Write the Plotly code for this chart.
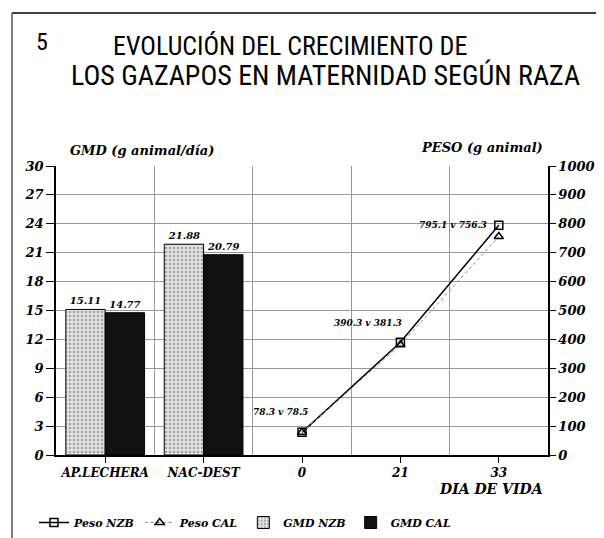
import plotly.graph_objects as go

categories = ["AP.LECHERA", "NAC-DEST", "0", "21", "33"]
bar_cats = ["AP.LECHERA", "NAC-DEST"]
gmd_nzb = [15.11, 21.88]
gmd_cal = [14.77, 20.79]
days = ["0", "21", "33"]
peso_nzb = [78.3, 390.3, 795.1]
peso_cal = [78.5, 381.3, 756.3]
left_ticks = list(range(0, 31, 3))
right_ticks = list(range(0, 1001, 100))

pos = {c: i for i, c in enumerate(categories)}
bar_x = [pos[c] for c in bar_cats]
day_x = [pos[d] for d in days]
boundaries = [i + 0.5 for i in range(len(categories))]

# the page body adds an 8 px margin; work in screen pixels and convert
OFF = 8
W, H = 604 - OFF, 538 - OFF
SL, SR, ST, SB = 56, 548, 166, 455          # plot area in screen pixels
L, R, T, B = SL - OFF, SR - OFF, ST - OFF, SB - OFF
def px(sx):
    return (sx - SL) / (SR - SL)
def py(sy):
    return (SB - sy) / (SB - ST)

SERIF = "DejaVu Serif, Liberation Serif, serif"
tickfont = dict(family=SERIF, size=13, color="black", weight="bold", style="italic")
smallfont = dict(family=SERIF, size=9, color="black", weight="bold", style="italic")

fig = go.Figure()

fig.add_trace(go.Scatter(
    x=day_x, y=peso_nzb, name="Peso NZB", mode="lines+markers", yaxis="y2",
    line=dict(color="black", width=1.5),
    marker=dict(symbol="square-open", size=8, color="black", line=dict(width=1.5)),
))
fig.add_trace(go.Scatter(
    x=day_x, y=peso_cal, name="Peso CAL", mode="lines+markers", yaxis="y2",
    line=dict(color="#888", width=1, dash="dot"),
    marker=dict(symbol="triangle-up-open", size=8, color="black", line=dict(width=1.5)),
))
fig.add_trace(go.Bar(
    x=bar_x, y=gmd_nzb, name="GMD NZB",
    marker=dict(color="#d9d9d9", line=dict(color="black", width=1),
                pattern=dict(shape=".", fgcolor="#666", bgcolor="#e2e2e2", size=4, solidity=0.3)),
    text=[f"{v:.2f}" for v in gmd_nzb], textposition="outside", textfont=dict(smallfont, size=10),
    cliponaxis=False,
))
fig.add_trace(go.Bar(
    x=bar_x, y=gmd_cal, name="GMD CAL",
    marker=dict(color="#111", line=dict(color="black", width=1)),
    text=[f"{v:.2f}" for v in gmd_cal], textposition="outside", textfont=dict(smallfont, size=10),
    cliponaxis=False,
))

# labels on the weight curve
label_shift = [(8, 13, "right", "bottom"), (4, 12, "right", "bottom"), (-10, 0, "right", "middle")]
for xv, a, b, (xs, ys, xa, ya) in zip(day_x, peso_nzb, peso_cal, label_shift):
    fig.add_annotation(x=xv, y=a, yref="y2", text=f"{a:.1f} v {b:.1f}", showarrow=False,
                       xshift=xs, yshift=ys, xanchor=xa, yanchor=ya, font=smallfont)

fig.update_layout(
    width=W, height=H,
    margin=dict(l=L, r=W - R, t=T, b=H - B, autoexpand=False),
    paper_bgcolor="white", plot_bgcolor="white",
    barmode="group", bargap=0.2, bargroupgap=0,
    showlegend=True,
    legend=dict(orientation="h", x=px(34), y=py(508), xanchor="left", yanchor="top",
                font=dict(family=SERIF, size=11, color="black", weight="bold", style="italic"),
                traceorder="normal"),
    xaxis=dict(range=[-0.5, len(categories) - 0.5], tickvals=list(range(len(categories))),
               ticktext=categories, showgrid=False, ticks="outside", ticklen=6,
               tickcolor="black", showline=True, linecolor="black", linewidth=1.5,
               tickfont=dict(tickfont, size=12), zeroline=False,
               minor=dict(tickvals=boundaries, showgrid=True, gridcolor="#999", gridwidth=1,
                          ticks="")),
    yaxis=dict(range=[0, 30], tickvals=left_ticks, showgrid=True, gridcolor="#999",
               gridwidth=1, ticks="outside", ticklen=8, tickcolor="black",
               showline=True, linecolor="black", linewidth=1.5, tickfont=tickfont,
               zeroline=False),
    yaxis2=dict(range=[0, 1000], tickvals=right_ticks, overlaying="y", side="right",
                showgrid=False, ticks="outside", ticklen=6, tickcolor="black",
                showline=True, linecolor="black", linewidth=1.5, tickfont=tickfont,
                zeroline=False),
)

TITLEFONT = dict(family="Liberation Sans Narrow, Roboto Condensed, Liberation Sans, Arial, sans-serif",
                 size=28, color="black")
fig.add_annotation(x=px(42), y=py(42), xref="paper", yref="paper", xanchor="center", yanchor="middle",
                   text="5", showarrow=False, font=dict(TITLEFONT, size=24))
fig.add_annotation(x=px(290), y=py(46), xref="paper", yref="paper", xanchor="center", yanchor="middle",
                   text="EVOLUCIÓN DEL CRECIMIENTO DE",
                   showarrow=False, font=dict(TITLEFONT, size=26))
fig.add_annotation(x=px(325), y=py(76), xref="paper", yref="paper", xanchor="center", yanchor="middle",
                   text="LOS GAZAPOS EN MATERNIDAD SEGÚN RAZA",
                   showarrow=False, font=TITLEFONT)
fig.add_annotation(x=px(68), y=py(150), xref="paper", yref="paper", xanchor="left", yanchor="middle",
                   text="GMD (g animal/día)", showarrow=False,
                   font=dict(family=SERIF, size=13, color="black", weight="bold", style="italic"))
fig.add_annotation(x=px(545), y=py(148), xref="paper", yref="paper", xanchor="right", yanchor="middle",
                   text="PESO (g animal)", showarrow=False,
                   font=dict(family=SERIF, size=13, color="black", weight="bold", style="italic"))
fig.add_annotation(x=px(545), y=py(489), xref="paper", yref="paper", xanchor="right", yanchor="middle",
                   text="DIA DE VIDA", showarrow=False,
                   font=dict(family=SERIF, size=14, color="black", weight="bold", style="italic"))

# page frame lines
fig.add_shape(type="line", xref="paper", yref="paper", x0=px(12), x1=px(612), y0=py(13), y1=py(13),
              line=dict(color="black", width=1.5))
fig.add_shape(type="line", xref="paper", yref="paper", x0=px(12), x1=px(12), y0=py(13), y1=py(545),
              line=dict(color="#555", width=1.5))

fig.write_html("out.html")
